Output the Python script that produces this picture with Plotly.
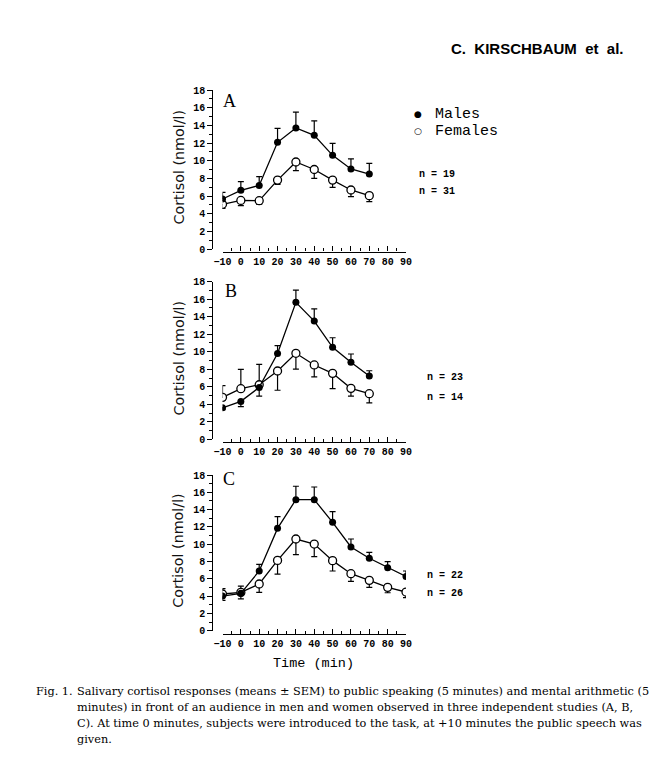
import plotly.graph_objects as go

# page is 663x759; the figure sits 8 px in from the page's top-left corner (body margin)
OFF = 8
W, H = 663 - OFF, 759 - OFF

# ---------------- data ----------------
time_ab = [-10, 0, 10, 20, 30, 40, 50, 60, 70]
time_c = [-10, 0, 10, 20, 30, 40, 50, 60, 70, 80, 90]

# Study A
a_males = [5.66, 6.64, 7.2, 12.08, 13.7, 12.87, 10.6, 9.06, 8.49]
a_males_up = [0.75, 0.98, 1.0, 1.58, 1.8, 1.63, 1.36, 1.14, 1.2]
a_males_dn = [0, 0, 0, 0, 0, 0, 0, 0, 0]
a_females = [5.06, 5.5, 5.47, 7.8, 9.85, 9.0, 7.8, 6.68, 6.04]
a_females_up = [0, 0, 0, 0, 0, 0, 0, 0, 0]
a_females_dn = [0.46, 0.6, 0.41, 0.5, 0.98, 1.0, 0.82, 0.76, 0.68]

# Study B
b_males = [3.6, 4.33, 5.93, 9.8, 15.64, 13.5, 10.5, 8.79, 7.23]
b_males_up = [0, 0, 0, 0.9, 1.4, 1.4, 1.1, 0.95, 0.6]
b_males_dn = [0.2, 0.6, 1.0, 0, 0, 0, 0, 0, 0]
b_females = [4.79, 5.78, 6.23, 7.8, 9.82, 8.49, 7.53, 5.82, 5.21]
b_females_up = [1.33, 2.2, 2.33, 0, 0, 0, 0, 0, 0]
b_females_dn = [0, 0, 0, 2.2, 1.8, 1.37, 1.75, 0.9, 1.06]

# Study C
c_males = [4.0, 4.32, 6.9, 11.83, 15.15, 15.15, 12.53, 9.68, 8.37, 7.29, 6.28]
c_males_up = [0, 0, 0.77, 1.35, 1.55, 1.46, 1.23, 0.92, 0.69, 0.69, 0.62]
c_males_dn = [0.5, 0.65, 0, 0, 0, 0, 0, 0, 0, 0, 0]
c_females = [4.24, 4.43, 5.4, 8.13, 10.6, 10.02, 8.1, 6.59, 5.82, 5.01, 4.47]
c_females_up = [0.62, 0.72, 0, 0, 0, 0, 0, 0, 0, 0, 0]
c_females_dn = [0, 0, 0.98, 1.6, 1.8, 1.46, 1.2, 0.89, 0.81, 0.62, 0.65]

n_labels = [("n = 19", "n = 31"), ("n = 23", "n = 14"), ("n = 22", "n = 26")]
panel_letters = ["A", "B", "C"]
x_ticks = [-10, 0, 10, 20, 30, 40, 50, 60, 70, 80, 90]
y_ticks = [0, 2, 4, 6, 8, 10, 12, 14, 16, 18]

caption_lines = [
    "Salivary cortisol responses (means \u00b1 SEM) to public speaking (5 minutes) and mental arithmetic (5",
    "minutes) in front of an audience in men and women observed in three independent studies (A, B,",
    "C). At time 0 minutes, subjects were introduced to the task, at +10 minutes the public speech was",
    "given.",
]

# ---------------- layout helpers (page pixels -> paper fractions) ----------------
def px(x):
    return (x - OFF) / W

def py(y):
    return 1 - (y - OFF) / H

panels = [
    # (y18 px, y0 px, xaxis line px)
    (90.0, 249.0, 251.5),
    (281.7, 439.3, 442.0),
    (475.0, 630.7, 634.0),
]
x_left, x_right = 222.5, 406.0
yaxis_x = 212.3

series = [
    (time_ab, a_males, a_males_up, a_males_dn, a_females, a_females_up, a_females_dn),
    (time_ab, b_males, b_males_up, b_males_dn, b_females, b_females_up, b_females_dn),
    (time_c, c_males, c_males_up, c_males_dn, c_females, c_females_up, c_females_dn),
]

tick_font = dict(family="Liberation Mono", size=10, color="black", weight="bold")

fig = go.Figure()
layout = dict(
    width=W, height=H,
    margin=dict(l=0, r=0, t=0, b=0, autoexpand=False),
    paper_bgcolor="white", plot_bgcolor="white",
    showlegend=False,
)
annotations = []


def note(text, x, y, font, xanchor="center", **kw):
    annotations.append(dict(text=text, x=px(x), y=py(y), xref="paper", yref="paper",
                            xanchor=xanchor, yanchor="middle", showarrow=False, font=font, **kw))


for i, (t, m, mu, md, f, fu, fd) in enumerate(series):
    k = "" if i == 0 else str(i + 1)
    xa, ya = "x" + k, "y" + k
    err_style = dict(type="data", symmetric=False, color="black", thickness=1.2, width=3)
    fig.add_trace(go.Scatter(
        x=t, y=f, xaxis=xa, yaxis=ya, mode="lines+markers",
        line=dict(color="black", width=1.3),
        marker=dict(symbol="circle", size=8, color="white", line=dict(color="black", width=1.3)),
        error_y=dict(array=fu, arrayminus=fd, **err_style),
    ))
    fig.add_trace(go.Scatter(
        x=t, y=m, xaxis=xa, yaxis=ya, mode="lines+markers",
        line=dict(color="black", width=1.3),
        marker=dict(symbol="circle", size=7, color="black"),
        error_y=dict(array=mu, arrayminus=md, **err_style),
    ))
    y18, y0, xline = panels[i]
    layout["xaxis" + k] = dict(
        domain=[px(x_left), px(x_right)], range=[-10, 90],
        anchor="free", position=py(xline), automargin=False,
        tickmode="array", tickvals=x_ticks, ticks="inside", ticklen=5, tickwidth=1.1,
        minor=dict(dtick=5, tick0=-10, ticks="inside", ticklen=3, tickwidth=1.1, tickcolor="black"),
        showline=True, linecolor="black", linewidth=1.2, tickcolor="black",
        showgrid=False, zeroline=False, tickfont=tick_font,
    )
    layout["yaxis" + k] = dict(
        domain=[py(y0), py(y18)], range=[0, 18],
        anchor="free", position=px(yaxis_x), automargin=False,
        tickmode="array", tickvals=y_ticks, ticks="outside", ticklen=5, tickwidth=1.1,
        minor=dict(dtick=1, tick0=0, ticks="outside", ticklen=3, tickwidth=1.1, tickcolor="black"),
        showline=True, linecolor="black", linewidth=1.2, tickcolor="black",
        showgrid=False, zeroline=False, tickfont=tick_font,
    )
    # y-axis title
    note("Cortisol (nmol/l)", 178, (y18 + y0) / 2 - 2,
         dict(family="DejaVu Sans", size=14.3, color="#111111"), textangle=-90)
    # panel letter
    note(panel_letters[i], [229, 231, 229][i], [101, 291, 479][i],
         dict(family="Liberation Serif", size=18, color="black"))
    # n labels
    nx = [417, 425, 425][i]
    ny = [(174, 191), (377, 397), (575, 593)][i]
    for j in range(2):
        note(n_labels[i][j], nx, ny[j],
             dict(family="Liberation Mono", size=10, color="black", weight="bold"), xanchor="left")

# legend
note("\u25cf", 418, 114, dict(family="DejaVu Sans", size=9, color="black"))
note("\u25cb", 418, 131, dict(family="DejaVu Sans", size=9, color="black"))
note("Males", 433, 114, dict(family="Liberation Mono", size=15, color="black"), xanchor="left")
note("Females", 433, 131, dict(family="Liberation Mono", size=15, color="black"), xanchor="left")

# x-axis title
note("Time (min)", 313, 663, dict(family="Liberation Mono", size=13.5, color="black"))

# header
note("<b>C.  KIRSCHBAUM  et  al.</b>", 626, 48,
     dict(family="Liberation Sans", size=15, color="black"), xanchor="right")

# caption
cap_font = dict(family="DejaVu Serif", size=11.3, color="black")
note("Fig. 1.", 34, 691, cap_font, xanchor="left")
for j, line in enumerate(caption_lines):
    note(line, 75, 691 + 16 * j, cap_font, xanchor="left")

layout["annotations"] = annotations
fig.update_layout(**layout)
fig.write_html("out.html")
